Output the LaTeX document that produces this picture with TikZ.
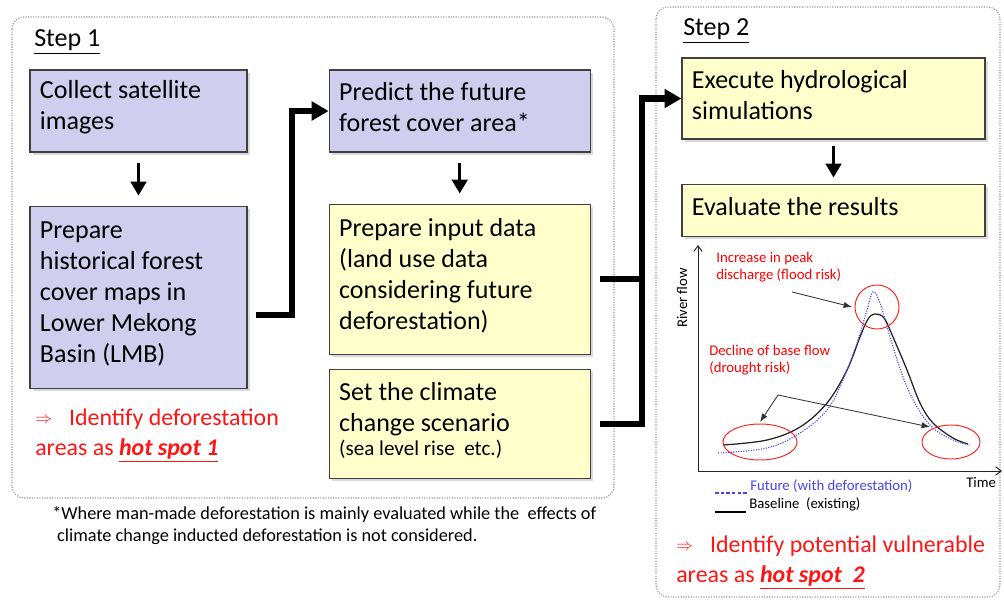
\documentclass[tikz,border=0pt]{standalone}
\usepackage{fontspec}
\setmainfont{Carlito}
\usetikzlibrary{arrows.meta, positioning, shadows}

\definecolor{lavender}{RGB}{208,206,238}
\definecolor{paleyellow}{RGB}{255,255,204}
\definecolor{framegray}{RGB}{150,150,150}
\definecolor{hotred}{RGB}{255,20,20}
\definecolor{futureblue}{RGB}{70,70,240}

\newcommand{\hotarrow}{\raisebox{2pt}{\fontsize{12}{12}\selectfont$\Rightarrow$}}
\newcommand{\boxtail}{\par\vspace{5pt}}

\begin{document}
\begin{tikzpicture}[
  x=0.025cm, y=-0.025cm,
  stepbox/.style={rectangle, draw=black!75, line width=0.8pt, align=flush left,
                  inner xsep=0.25cm, inner ysep=0pt,
                  execute at end node=\boxtail,
                  font=\fontsize{18.5}{22}\selectfont,
                  drop shadow={shadow xshift=0.07cm, shadow yshift=-0.07cm, opacity=0.3}},
  lavbox/.style={stepbox, fill=lavender},
  yelbox/.style={stepbox, fill=paleyellow},
  col1/.style={text width=4.925cm},
  col2/.style={text width=6.025cm},
  col3/.style={text width=7.075cm},
  frame/.style={draw=framegray, densely dotted, line width=0.8pt, rounded corners=0.3cm},
  steplabel/.style={font=\fontsize{18.5}{22}\selectfont, anchor=base west, inner sep=0pt},
  hotspot/.style={font=\fontsize{17}{21}\selectfont, text=hotred, align=left,
                  anchor=north west, inner sep=0pt},
  downarrow/.style={line width=2.5pt, -{Triangle[length=10pt, width=11pt]},
                    shorten <=0.25cm, shorten >=0.25cm},
  bentline/.style={line width=4.3pt},
  bentarrow/.style={bentline, -{Triangle[length=12pt, width=13pt]}},
  graphtext/.style={font=\fontsize{10.5}{12}\selectfont, align=left, inner sep=0pt},
  axis/.style={line width=0.7pt, black!85, -{Straight Barb[length=4pt, width=6pt]}},
  callout/.style={line width=0.6pt, black!80, -{Latex[length=6pt, width=4.5pt]}},
  ring/.style={draw=red!85, line width=0.7pt}
]
  \useasboundingbox (0,0) rectangle (1004,602);

  % frames
  \draw[frame] (12,17) rectangle (614,498);
  \draw[frame] (656,7) rectangle (1000,597);
  \node[steplabel] (step1) at (34,47) {\underline{Step 1}};
  \node[steplabel] (step2) at (683,36) {\underline{Step 2}};

  % step 1
  \node[lavbox, col1, minimum height=2.05cm] (collect) at (138.5,111) {Collect satellite\\images};
  \node[lavbox, col1, minimum height=4.55cm, below=1.325cm of collect] (histmap)
    {Prepare\\historical forest\\cover maps in\\Lower Mekong\\Basin (LMB)};
  \node[lavbox, col2, minimum height=2.05cm, right=2.025cm of collect] (predict)
    {Predict the future\\forest cover area*};
  \node[yelbox, col2, minimum height=3.75cm, below=1.275cm of predict] (inputdata)
    {Prepare input data\\(land use data\\considering future\\deforestation)};
  \node[yelbox, col2, minimum height=2.725cm, below=0.35cm of inputdata] (climate)
    {Set the climate\\change scenario\\[-5pt]{\fontsize{15}{16}\selectfont(sea level rise\ \ etc.)}};

  \node[hotspot] (hot1) at (35,409)
    {\hotarrow\hspace{12pt}Identify deforestation\\areas as \textbf{\textit{\underline{hot spot 1}}}};
  \node[anchor=north west, inner sep=0pt, align=left, font=\fontsize{13}{15.5}\selectfont] (note) at (52,506)
    {*Where man-made deforestation is mainly evaluated while the\ \ effects of\\\hspace{3.5pt}climate change inducted deforestation is not considered.};

  % step 2
  \node[yelbox, col3, minimum height=2.025cm] (execute) at (833.5,98.5) {Execute hydrological\\simulations};
  \node[yelbox, col3, minimum height=1.3cm, below=1.1cm of execute] (evaluate) {Evaluate the results};

  \node[hotspot] (hot2) at (676,536)
    {\hotarrow\hspace{12pt}Identify potential vulnerable\\areas as \textbf{\textit{\underline{hot spot\ \ 2}}}};

  % connectors
  \draw[downarrow] (collect) -- (histmap);
  \draw[downarrow] (predict) -- (inputdata);
  \draw[downarrow, shorten <=0.15cm, shorten >=0.15cm] (execute) -- (evaluate);
  \draw[bentarrow] ([xshift=0.2cm, yshift=-0.45cm]histmap.east) -- ++(0.9cm,0) |- (predict.west);
  \draw[bentline] ([xshift=0.225cm]inputdata.east) -- ++(1.05cm,0);
  \draw[bentarrow] ([xshift=0.225cm]climate.east) -- ++(1.05cm,0) |- (execute.west);

  % hydrograph
  \coordinate (origin) at (698,471);
  \coordinate (ytop) at (698,245);
  \coordinate (xend) at (1002,471);
  \draw[axis] (origin) -- (ytop);
  \draw[axis] (origin) -- (xend);
  \node[graphtext, rotate=90] (yaxlabel) at (682,298) {River flow};
  \node[graphtext, anchor=base west] (xaxlabel) at (966,487) {Time};

  \draw[black!85, line width=0.9pt] plot[smooth, tension=0.6] coordinates
    {(723,445) (767,440) (800,427) (827,403) (847,370) (860,337) (868,319) (875,314) (884,318) (893,337) (907,370) (920,403) (933,423) (953,438) (968,444)};
  \draw[futureblue, densely dotted, line width=0.8pt] plot[smooth, tension=0.6] coordinates
    {(718,453) (767,448) (800,433) (827,410) (843,380) (857,343) (867,310) (873,292) (880,303) (890,337) (903,377) (917,407) (933,428) (953,440) (970,445)};

  \draw[ring] (877,307) circle[radius=22];
  \draw[ring] (760,442) ellipse[x radius=37, y radius=18];
  \draw[ring] (951,442) ellipse[x radius=29, y radius=17];

  \node[graphtext, text=red, anchor=north west] (floodnote) at (716,252)
    {Increase in peak\\discharge (flood risk)};
  \node[graphtext, text=red, anchor=north west] (droughtnote) at (709,345)
    {Decline of base flow\\(drought risk)};
  \coordinate (peaktail) at (792,292);
  \coordinate (peakhead) at (852,307);
  \coordinate (fork) at (778,395);
  \coordinate (lowleft) at (760,422);
  \coordinate (lowright) at (930,427);
  \draw[callout] (peaktail) -- (peakhead);
  \draw[callout] (fork) -- (lowleft);
  \draw[callout] (fork) -- (lowright);

  % legend
  \coordinate (futa) at (715,493);
  \coordinate (futb) at (747,493);
  \coordinate (basa) at (715,512);
  \coordinate (basb) at (746,512);
  \draw[futureblue, line width=0.8pt, dash pattern=on 2.5pt off 1.5pt] (futa) -- (futb);
  \draw[black, line width=2pt] (basa) -- (basb);
  \node[graphtext, text=futureblue, anchor=base west] (futlabel) at (750,490) {Future (with deforestation)};
  \node[graphtext, anchor=base west] (baslabel) at (749,508) {Baseline\ \ (existing)};
\end{tikzpicture}
\end{document}
